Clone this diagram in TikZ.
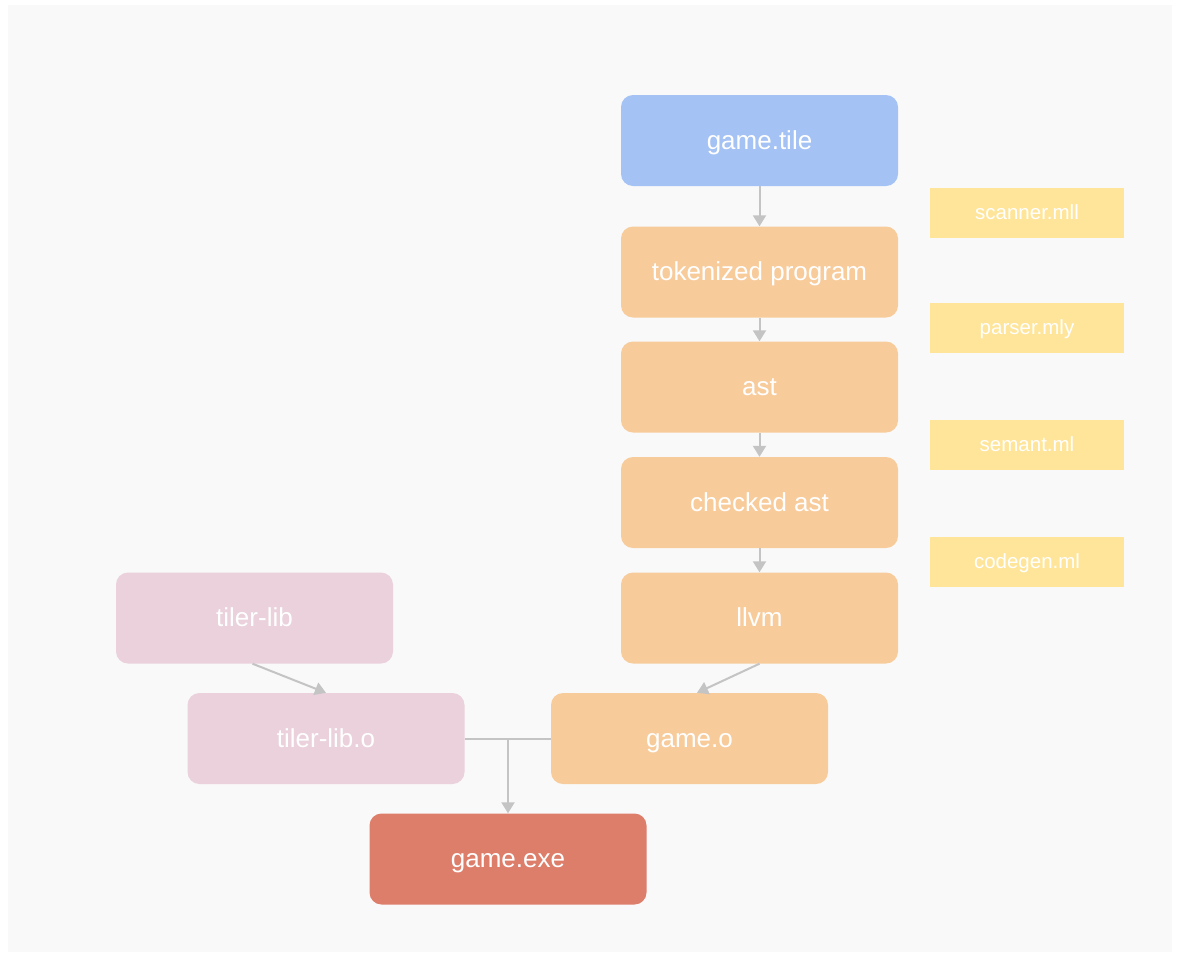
\documentclass[tikz,border=0pt]{standalone}
\usepackage{fontspec}
\setmainfont{Liberation Sans}
\usetikzlibrary{arrows.meta,calc}
\definecolor{bgray}{HTML}{F9F9F9}
\definecolor{cblue}{HTML}{A4C2F4}
\definecolor{corange}{HTML}{F8CB9B}
\definecolor{cpink}{HTML}{EAD1DC}
\definecolor{cred}{HTML}{DD7E6B}
\definecolor{cyellow}{HTML}{FFE599}
\definecolor{cline}{HTML}{C4C4C4}
\tikzset{
  box/.style={rectangle, rounded corners=12pt, draw=none, inner sep=0pt,
    minimum width=277pt, minimum height=91pt, text=white,
    text height=22pt, text depth=4.5pt,
    font=\fontsize{26}{30}\selectfont},
  filebox/.style={rectangle, draw=none, fill=cyellow, inner sep=0pt,
    minimum width=194pt, minimum height=50pt, text=white,
    text height=16.5pt, text depth=4pt,
    font=\fontsize{20.5}{24}\selectfont},
  conn/.style={draw=cline, line width=2pt},
  arr/.style={conn, -{Triangle[width=13pt,length=11pt]}}
}
\begin{document}
\begin{tikzpicture}[x=1pt,y=-1pt]
\useasboundingbox (0,0) rectangle (1179,959);
\fill[white] (0,0) rectangle (1179,959);
\fill[bgray] (8,5) rectangle (1172,952);

\node[box, fill=cblue] (tile) at (759.5,140.5) {game.tile};
\node[box, fill=corange] (tok) at (759.5,272) {tokenized program};
\node[box, fill=corange] (ast) at (759.5,387) {ast};
\node[box, fill=corange] (chk) at (759.5,502.5) {checked ast};
\node[box, fill=corange] (llvm) at (759.5,618) {llvm};
\node[box, fill=corange] (gameo) at (689.5,738.5) {game.o};
\node[box, fill=cpink] (tl) at (254.5,618) {tiler-lib};
\node[box, fill=cpink] (tlo) at (326,738.5) {tiler-lib.o};
\node[box, fill=cred] (exe) at (508,859) {game.exe};

\node[filebox] (scan) at (1027,213) {scanner.mll};
\node[filebox] (pars) at (1027,328) {parser.mly};
\node[filebox] (sem) at (1027,445) {semant.ml};
\node[filebox] (cg) at (1027,562) {codegen.ml};

\draw[arr] (tile.south) -- (tok.north);
\draw[arr] (tok.south) -- (ast.north);
\draw[arr] (ast.south) -- (chk.north);
\draw[arr] (chk.south) -- (llvm.north);
\draw[arr] (llvm.south) -- ($(gameo.north)+(7.5,0)$);
\draw[arr] ($(tl.south)+(-2,0)$) -- (tlo.north);
\draw[conn] (tlo.east) -- (gameo.west);
\coordinate (j) at (exe.north |- tlo.east);
\draw[arr] (j) -- (exe.north);
\end{tikzpicture}
\end{document}
